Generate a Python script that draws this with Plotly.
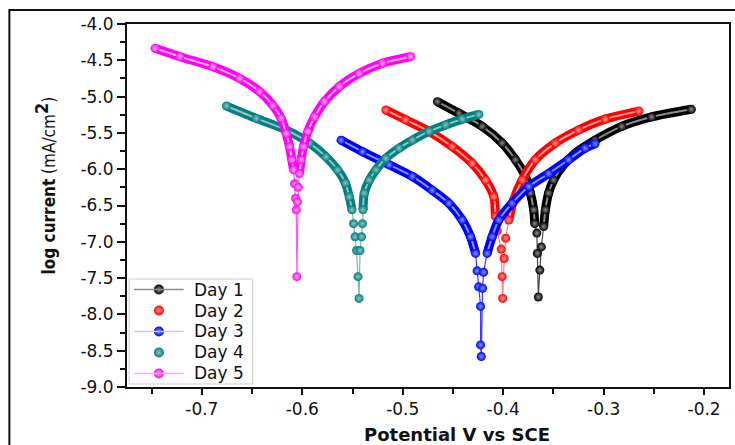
import plotly.graph_objects as go

# ---- Tafel polarisation data (potential in V vs SCE, log current in mA/cm^2) ----
# Each day: cathodic branch, sparse points around Ecorr, anodic branch.
day1_cath_E = [-0.4655, -0.4440, -0.4209, -0.4010, -0.3878, -0.3779, -0.3729, -0.3696, -0.3686]
day1_cath_logi = [-5.07, -5.23, -5.41, -5.64, -5.87, -6.10, -6.33, -6.56, -6.75]
day1_tip_E = [-0.3665, -0.3660, -0.3650, -0.3635, -0.3620]
day1_tip_logi = [-6.88, -7.16, -7.76, -7.39, -7.07]
day1_anod_E = [-0.3597, -0.3580, -0.3548, -0.3498, -0.3416, -0.3283, -0.3085, -0.2820, -0.2523, -0.2126]
day1_anod_logi = [-6.79, -6.56, -6.33, -6.15, -5.97, -5.78, -5.60, -5.41, -5.28, -5.175]

day2_cath_E = [-0.5168, -0.4970, -0.4738, -0.4507, -0.4308, -0.4176, -0.4093, -0.4078]
day2_cath_logi = [-5.185, -5.32, -5.48, -5.69, -5.92, -6.15, -6.38, -6.65]
day2_tip_E = [-0.4060, -0.4020, -0.4010, -0.4005, -0.3990, -0.3975]
day2_tip_logi = [-6.85, -7.10, -7.48, -7.78, -7.23, -6.95]
day2_anod_E = [-0.3944, -0.3895, -0.3812, -0.3680, -0.3481, -0.3250, -0.2985, -0.2647]
day2_anod_logi = [-6.70, -6.42, -6.15, -5.87, -5.64, -5.46, -5.31, -5.20]

day3_cath_E = [-0.5614, -0.5400, -0.5135, -0.4904, -0.4706, -0.4540, -0.4408, -0.4325, -0.4275]
day3_cath_logi = [-5.60, -5.76, -5.94, -6.10, -6.29, -6.47, -6.70, -6.93, -7.16]
day3_tip_E = [-0.4260, -0.4245, -0.4225, -0.4225, -0.4218, -0.4205, -0.4195]
day3_tip_logi = [-7.40, -7.62, -7.89, -8.42, -8.58, -7.64, -7.42]
day3_anod_E = [-0.4160, -0.4110, -0.4044, -0.3912, -0.3746, -0.3548, -0.3349, -0.3184, -0.3085]
day3_anod_logi = [-7.16, -6.93, -6.70, -6.47, -6.24, -6.06, -5.87, -5.71, -5.65]

day4_cath_E = [-0.6755, -0.6457, -0.6160, -0.5929, -0.5763, -0.5648, -0.5571, -0.5532, -0.5505]
day4_cath_logi = [-5.13, -5.30, -5.46, -5.64, -5.83, -6.01, -6.19, -6.38, -6.56]
day4_tip_E = [-0.5490, -0.5475, -0.5460, -0.5445, -0.5435, -0.5425, -0.5410, -0.5400]
day4_tip_logi = [-6.75, -6.93, -7.12, -7.48, -7.78, -7.12, -6.93, -6.75]
day4_anod_E = [-0.5395, -0.5383, -0.5333, -0.5267, -0.5168, -0.5036, -0.4904, -0.4738, -0.4573, -0.4408, -0.4242]
day4_anod_logi = [-6.56, -6.33, -6.15, -6.01, -5.85, -5.71, -5.60, -5.48, -5.39, -5.31, -5.245]

day5_cath_E = [-0.7466, -0.7218, -0.6888, -0.6623, -0.6425, -0.6293, -0.6210, -0.6160, -0.6127, -0.6104, -0.6087]
day5_cath_logi = [-4.335, -4.45, -4.59, -4.75, -4.93, -5.12, -5.30, -5.51, -5.69, -5.87, -6.01]
day5_tip_E = [-0.6077, -0.6067, -0.6060, -0.6054, -0.6048, -0.6040]
day5_tip_logi = [-6.20, -6.40, -6.56, -7.48, -6.45, -6.25]
day5_anod_E = [-0.6028, -0.6011, -0.5988, -0.5945, -0.5879, -0.5780, -0.5631, -0.5433, -0.5201, -0.4920]
day5_anod_logi = [-6.06, -5.87, -5.69, -5.48, -5.28, -5.07, -4.86, -4.68, -4.54, -4.45]

day_names = ["Day 1", "Day 2", "Day 3", "Day 4", "Day 5"]

x_tick_vals = [-0.7, -0.6, -0.5, -0.4, -0.3, -0.2]
x_tick_text = ["-0.7", "-0.6", "-0.5", "-0.4", "-0.3", "-0.2"]
y_tick_vals = [-9.0, -8.5, -8.0, -7.5, -7.0, -6.5, -6.0, -5.5, -5.0, -4.5, -4.0]
y_tick_text = ["-9.0", "-8.5", "-8.0", "-7.5", "-7.0", "-6.5", "-6.0", "-5.5", "-5.0", "-4.5", "-4.0"]

# ---- styling ----
series = [
    # (cath E, cath logi, tip E, tip logi, anod E, anod logi)
    (day1_cath_E, day1_cath_logi, day1_tip_E, day1_tip_logi, day1_anod_E, day1_anod_logi),
    (day2_cath_E, day2_cath_logi, day2_tip_E, day2_tip_logi, day2_anod_E, day2_anod_logi),
    (day3_cath_E, day3_cath_logi, day3_tip_E, day3_tip_logi, day3_anod_E, day3_anod_logi),
    (day4_cath_E, day4_cath_logi, day4_tip_E, day4_tip_logi, day4_anod_E, day4_anod_logi),
    (day5_cath_E, day5_cath_logi, day5_tip_E, day5_tip_logi, day5_anod_E, day5_anod_logi),
]
main_colors = ["#000000", "#ff0000", "#0000ff", "#008080", "#ff00ff"]
shine_colors = ["#8c8c8c", "#ff9d9d", "#8098ff", "#93c2c2", "#ffb4cf"]
thin_colors = ["#4a4a4a", "#ff8080", "#3b3bff", "#7fb5b5", "#ff55ff"]
legend_line_colors = ["#8a8a8a", None, "#c3c9f2", None, "#ffa6ff"]

INK = "#111111"
TICK_FONT = dict(family="DejaVu Sans", size=17, color=INK)

fig = go.Figure()

for k, (cE, cI, tE, tI, aE, aI) in enumerate(series):
    col, shine, thin = main_colors[k], shine_colors[k], thin_colors[k]
    # full sweep: thin connecting line
    fig.add_trace(go.Scatter(
        x=cE + tE + aE, y=cI + tI + aI, mode="lines", showlegend=False,
        line=dict(color=thin, width=1.2), hoverinfo="skip"))
    # dense parts of the sweep form a thick band of overlapping spheres
    for bx, by in ((cE, cI), (aE, aI)):
        fig.add_trace(go.Scatter(
            x=bx, y=by, mode="lines", showlegend=False, hoverinfo="skip",
            line=dict(color=col, width=9, shape="spline", smoothing=0.8)))
        fig.add_trace(go.Scatter(
            x=bx, y=by, mode="lines", showlegend=False, hoverinfo="skip",
            line=dict(color=shine, width=2, shape="spline", smoothing=0.8)))
    fig.add_trace(go.Scatter(
        x=cE + tE + aE, y=cI + tI + aI, mode="markers", showlegend=False,
        name=day_names[k],
        marker=dict(size=9, color=col, line=dict(width=0),
                    gradient=dict(type="radial", color=shine))))

# ---- legend box drawn by hand (lower-left corner of the plot area) ----
box_x0, box_x1, box_y0, box_y1 = 0.0035, 0.2086, 0.0083, 0.2975
row_step = (box_y1 - box_y0) / 5
rows_y = [box_y1 - row_step * (k + 0.5) for k in range(5)]
sym_x, sym_half, txt_x = 0.053, 0.041, 0.1076

shapes = [
    # outer frame of the whole figure
    dict(type="rect", xref="paper", yref="paper",
         x0=-0.1954, x1=1.5, y0=-0.5, y1=1.0386,
         line=dict(color=INK, width=2), layer="below"),
    dict(type="rect", xref="paper", yref="paper",
         x0=box_x0, x1=box_x1, y0=box_y0, y1=box_y1,
         fillcolor="white", line=dict(color="#cfcfcf", width=1), layer="below"),
]
annotations = []
for k in range(5):
    lc = legend_line_colors[k]
    if lc:
        shapes.append(dict(type="line", xref="paper", yref="paper",
                           x0=sym_x - sym_half, x1=sym_x + sym_half,
                           y0=rows_y[k], y1=rows_y[k], line=dict(color=lc, width=1.5)))
    annotations.append(dict(text=day_names[k], xref="paper", yref="paper",
                            x=txt_x, y=rows_y[k], xanchor="left", yanchor="middle",
                            showarrow=False,
                            font=dict(family="DejaVu Sans", size=17, color=INK)))

fig.add_trace(go.Scatter(
    x=[sym_x] * 5, y=rows_y, xaxis="x2", yaxis="y2", mode="markers",
    showlegend=False, hoverinfo="skip",
    marker=dict(size=10, color=main_colors, line=dict(width=0),
                gradient=dict(type="radial", color=shine_colors))))

axis_common = dict(
    showgrid=False, zeroline=False, showline=True, linecolor=INK, linewidth=2,
    mirror=True, ticks="outside", tickcolor=INK, tickwidth=1.5,
    tickmode="array", tickfont=TICK_FONT,
)

fig.update_layout(
    xaxis=dict(**axis_common, range=[-0.7745, -0.1752],
               tickvals=x_tick_vals, ticktext=x_tick_text, ticklen=6,
               minor=dict(tickmode="linear", tick0=-0.75, dtick=0.1, ticks="outside",
                          ticklen=5, tickcolor=INK, tickwidth=1.5)),
    yaxis=dict(**axis_common, range=[-9.0, -4.0],
               tickvals=y_tick_vals, ticktext=y_tick_text, ticklen=8,
               minor=dict(tickmode="linear", tick0=-8.75, dtick=0.5, ticks="outside",
                          ticklen=5, tickcolor=INK, tickwidth=1.5)),
    xaxis2=dict(overlaying="x", range=[0, 1], visible=False, fixedrange=True),
    yaxis2=dict(overlaying="y", range=[0, 1], visible=False, fixedrange=True),
)

annotations += [
    dict(text="<b>Potential V vs SCE</b>", xref="paper", yref="paper",
         x=0.548, y=-0.1295, xanchor="center", yanchor="middle", showarrow=False,
         font=dict(family="DejaVu Sans", size=18, color=INK)),
    dict(text="<b>log current</b> (mA/cm<sup><b><span style='font-size:18px'>2</span></b></sup>)",
         xref="paper", yref="paper",
         x=-0.1358, y=0.556, xanchor="center", yanchor="middle", showarrow=False,
         textangle=-90,
         font=dict(family="DejaVu Sans Condensed, DejaVu Sans", size=17, color=INK)),
]

fig.update_layout(
    width=735, height=445,
    margin=dict(l=127, r=4, t=24, b=58),
    paper_bgcolor="white", plot_bgcolor="white",
    showlegend=False,
    annotations=annotations,
    shapes=shapes,
)

fig.write_html("out.html")
